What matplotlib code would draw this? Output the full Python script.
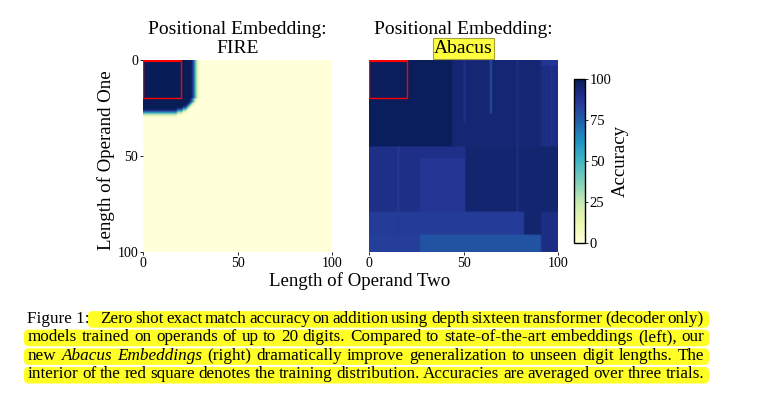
import matplotlib.pyplot as plt
import numpy as np
from matplotlib.patches import Rectangle, FancyBboxPatch
from matplotlib.transforms import IdentityTransform

plt.rcParams['font.family'] = ['Liberation Serif', 'DejaVu Serif']

W, H = 768, 399

# grid / ticks
n_len = 100
axis_ticks = [0, 50, 100]
cbar_ticks = [0, 25, 50, 75, 100]
train_len = 20

# FIRE: number of full-accuracy columns per row (rows 0..25), then accuracy of the fringe
fire_edge = [26, 26, 26, 26, 26, 26, 26, 26, 26, 26, 26, 26, 26, 26, 26, 26, 26, 26, 26,
             26, 25, 25, 24, 23, 21, 18]
fire_fade = [85, 55, 25, 6]

# Abacus: blocks (row0, row1, col0, col1, accuracy), painted in order
abacus_blocks = [
    (0, 100, 0, 100, 90),
    (0, 45, 44, 100, 94),
    (0, 45, 0, 44, 99),
    (0, 3, 91, 100, 87),
    (3, 45, 91, 100, 91),
    (45, 79, 51, 100, 95),
    (51, 100, 27, 51, 87),
    (79, 91, 0, 82, 85),
    (79, 91, 82, 91, 95),
    (79, 100, 91, 100, 91),
    (91, 100, 0, 27, 84),
    (91, 100, 27, 91, 78),
]
# faint vertical streaks (col, row0, row1, accuracy)
abacus_streaks = [
    (50, 0, 33, 89),
    (64, 0, 28, 79),
    (78, 0, 79, 91),
    (96, 3, 45, 88),
    (15, 45, 92, 86),
]

caption_lines = [
    "Zero shot exact match accuracy on addition using depth sixteen transformer (decoder only)",
    "models trained on operands of up to 20 digits. Compared to state-of-the-art embeddings (left), our",
    "new Abacus Embeddings (right) dramatically improve generalization to unseen digit lengths. The",
    "interior of the red square denotes the training distribution. Accuracies are averaged over three trials.",
]
italic_words = ["Abacus", "Embeddings"]

# ---- build the grids
fire = np.zeros((n_len, n_len))
for r, e in enumerate(fire_edge):
    fire[r, :e] = 100
mask = fire > 0
for v in fire_fade:
    grown = mask.copy()
    grown[1:, :] |= mask[:-1, :]
    grown[:, 1:] |= mask[:, :-1]
    fire[grown & ~mask] = v
    mask = grown

abacus = np.zeros((n_len, n_len))
for r0, r1, c0, c1, v in abacus_blocks:
    abacus[r0:r1, c0:c1] = v
for c, r0, r1, v in abacus_streaks:
    abacus[r0:r1, c] = v


def fr(x0, y0, x1, y1):
    # pixel box (top-left origin) -> figure fraction rect
    return [x0 / W, 1 - y1 / H, (x1 - x0) / W, (y1 - y0) / H]


fig = plt.figure(figsize=(W / 100, H / 100), dpi=100)
ax1 = fig.add_axes(fr(143, 60, 332, 252))
ax2 = fig.add_axes(fr(369, 60, 558, 252))
cax = fig.add_axes(fr(574, 79, 585, 243))

for ax, data in [(ax1, fire), (ax2, abacus)]:
    im = ax.imshow(data, cmap='YlGnBu', vmin=0, vmax=100, extent=(0, n_len, n_len, 0),
                   aspect='auto', interpolation='bilinear')
    ax.add_patch(Rectangle((0, 0), train_len, train_len, fill=False, edgecolor='red', lw=1.0))
    ax.plot([0, train_len], [0, 0], color='red', lw=3, solid_capstyle='butt')
    ax.set_xlim(0, n_len)
    ax.set_ylim(n_len, 0)
    ax.set_xticks(axis_ticks)
    ax.set_yticks(axis_ticks)
    for s in ax.spines.values():
        s.set_visible(False)
    ax.tick_params(length=2, width=0.6, pad=1.5, labelsize=10)
ax2.tick_params(axis='y', left=False, labelleft=False)

cb = fig.colorbar(im, cax=cax, ticks=cbar_ticks)
cb.outline.set_linewidth(1.0)
cax.tick_params(length=2, width=0.6, pad=1.5, labelsize=10.5)

T = IdentityTransform()


def ptext(x, y, s, **kw):
    return fig.text(x, H - y, s, transform=T, **kw)


# titles
ptext(237.5, 33.5, "Positional Embedding:", ha='center', va='baseline', fontsize=14)
ptext(237.5, 53, "FIRE", ha='center', va='baseline', fontsize=14)
ptext(463.5, 33.5, "Positional Embedding:", ha='center', va='baseline', fontsize=14)
ptext(463.5, 53, "Abacus", ha='center', va='baseline', fontsize=14, zorder=5,
      bbox=dict(boxstyle='square,pad=0.08', facecolor='#ffff40', edgecolor='#a3a33a', lw=0.8))

ptext(360, 285.5, "Length of Operand Two", ha='center', va='baseline', fontsize=13.6)
ptext(106, 160, "Length of Operand One", ha='center', va='center', fontsize=13.6, rotation=90)
ptext(620, 161, "Accuracy", ha='center', va='center', fontsize=13.5, rotation=90)

# ---- caption, justified with highlight
cap_size = 12.3
baselines = [322.7, 341.3, 359.9, 378.5]
line_x0 = [100, 28, 28, 28]
hl_x0 = [88, 24, 24, 24]
x_right = 704
yellow = '#ffff26'

renderer = fig.canvas.get_renderer()

ptext(27, baselines[0], "Figure 1:", ha='left', va='baseline', fontsize=cap_size, zorder=3)

for i, line in enumerate(caption_lines):
    b = baselines[i]
    fig.patches.append(FancyBboxPatch((hl_x0[i], H - b - 5), x_right + 5 - hl_x0[i], 16.6,
                                      boxstyle='round,pad=0,rounding_size=4.5',
                                      facecolor=yellow, edgecolor='none', transform=T,
                                      figure=fig, zorder=1))
    words = line.split(' ')
    arts = [ptext(0, b, w, ha='left', va='baseline', fontsize=cap_size, zorder=3,
                  style='italic' if w in italic_words else 'normal')
            for w in words]
    widths = [a.get_window_extent(renderer=renderer).width for a in arts]
    gap = (x_right - line_x0[i] - sum(widths)) / (len(arts) - 1)
    x = line_x0[i]
    for a, wd in zip(arts, widths):
        a.set_x(x)
        x += wd + gap

fig.savefig('out.png', dpi=100)
